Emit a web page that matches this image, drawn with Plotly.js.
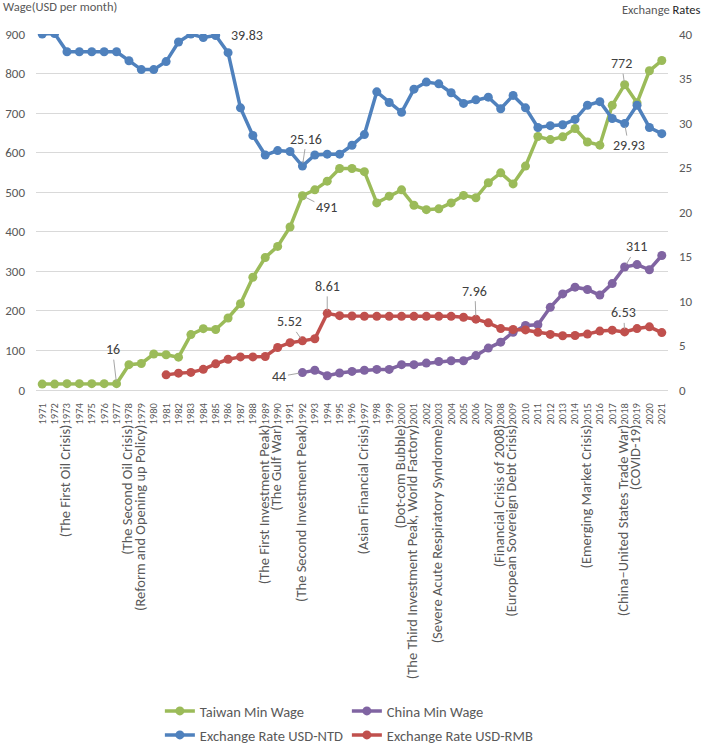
<!DOCTYPE html>
<html>
<head>
<meta charset="utf-8">
<script src="https://cdn.plot.ly/plotly-3.0.1.min.js"></script>
<style>
  html, body { margin: 0; padding: 0; background: #fff; }
  #chart { width: 703px; height: 748px; }
</style>
</head>
<body>
<div id="chart"></div>
<script>
// years on the category axis
var years = [];
for (var yr = 1971; yr <= 2021; yr++) years.push(yr);

// events printed in front of some years
var events = {
  1973: '(The First Oil Crisis)',
  1978: '(The Second Oil Crisis)',
  1979: '(Reform and Opening up Policy)',
  1989: '(The First Investment Peak)',
  1990: '(The Gulf War)',
  1992: '(The Second Investment Peak)',
  1997: '(Asian Financial Crisis)',
  2000: '(Dot-com Bubble)',
  2001: '(The Third Investment Peak, World Factory)',
  2003: '(Severe Acute Respiratory Syndrome)',
  2008: '(Financial Crisis of 2008)',
  2009: '(European Sovereign Debt Crisis)',
  2015: '(Emerging Market Crisis)',
  2018: '(China\u2013United States Trade War)',
  2019: '(COVID-19)'
};
// event text is set larger than the year digits, as in the source
var tickLabels = years.map(function (y) {
  var ev = events[y] ? '<span style="font-size:14.5px">' + events[y] + '</span>' : '';
  return ev + y;
});

// wages, USD per month (left axis)
var taiwanWage = [15, 15, 16, 16, 16, 16, 16, 64, 67, 91,
  89, 83, 140, 155, 153, 182, 218, 285, 335, 363,
  412, 491, 506, 528, 560, 560, 552, 473, 490, 506,
  467, 456, 458, 473, 492, 486, 524, 549, 521, 566,
  641, 633, 640, 661, 627, 619, 720, 772, 726, 807, 833];

var chinaWage = [null, null, null, null, null, null, null, null, null, null,
  null, null, null, null, null, null, null, null, null, null,
  null, 44, 50, 36, 43, 47, 50, 52, 52, 64,
  64, 68, 72, 74, 74, 87, 106, 121, 146, 163,
  165, 209, 243, 260, 254, 240, 269, 311, 317, 304, 340];

// exchange rates (right axis)
var rateNTD = [40.0, 40.05, 38.0, 38.0, 38.0, 38.0, 38.0, 37.0, 36.0, 36.0,
  36.9, 39.1, 40.0, 39.6, 39.83, 37.9, 31.7, 28.6, 26.4, 26.9,
  26.8, 25.16, 26.4, 26.5, 26.5, 27.5, 28.7, 33.5, 32.3, 31.2,
  33.8, 34.6, 34.4, 33.4, 32.2, 32.6, 32.9, 31.6, 33.1, 31.7,
  29.5, 29.7, 29.8, 30.4, 32.0, 32.4, 30.5, 29.93, 32.0, 29.5, 28.8];

var rateRMB = [null, null, null, null, null, null, null, null, null, null,
  1.70, 1.89, 1.98, 2.32, 2.94, 3.45, 3.72, 3.72, 3.77, 4.78,
  5.32, 5.52, 5.76, 8.61, 8.35, 8.31, 8.29, 8.28, 8.28, 8.28,
  8.28, 8.28, 8.28, 8.28, 8.17, 7.96, 7.55, 6.90, 6.80, 6.75,
  6.48, 6.25, 6.10, 6.12, 6.28, 6.62, 6.72, 6.53, 6.90, 7.10, 6.45];

var FONT = 'Carlito, Calibri, "Liberation Sans", Arial, sans-serif';
var GREY = '#595959';

function series(name, y, color, axis, legend) {
  return {
    x: years, y: y, name: name,
    type: 'scatter', mode: 'lines+markers',
    yaxis: axis, legend: legend,
    connectgaps: false,
    line: {color: color, width: 3.5},
    marker: {color: color, size: 9}
  };
}

var traces = [
  series('Taiwan Min Wage', taiwanWage, '#9BBB59', 'y', 'legend'),
  series('China Min Wage', chinaWage, '#8064A2', 'y', 'legend'),
  series('Exchange Rate USD-NTD', rateNTD, '#4F81BD', 'y2', 'legend2'),
  series('Exchange Rate USD-RMB', rateRMB, '#C0504D', 'y2', 'legend2')
];

// data labels: [year, series, axis, dx, dy]
function valueAt(arr, year) { return arr[years.indexOf(year)]; }
var pointLabels = [
  [1977, taiwanWage, 'y', -4, -34],
  [1992, taiwanWage, 'y', 24, 12],
  [2018, taiwanWage, 'y', -3, -21],
  [1992, chinaWage, 'y', -23, 4],
  [2018, chinaWage, 'y', 12, -20],
  [1992, rateNTD, 'y2', 4, -27],
  [2018, rateNTD, 'y2', 4, 22],
  [1992, rateRMB, 'y2', -13, -19],
  [1994, rateRMB, 'y2', 0, -27],
  [2006, rateRMB, 'y2', -1, -28],
  [2018, rateRMB, 'y2', -1, -19]
];

var annotations = pointLabels.map(function (p) {
  var v = valueAt(p[1], p[0]);
  return {
    x: p[0], y: v, xref: 'x', yref: p[2],
    text: String(v),
    showarrow: true, arrowhead: 0, arrowwidth: 1, arrowcolor: '#A6A6A6',
    standoff: 3,
    ax: p[3], ay: p[4],
    font: {family: FONT, size: 14, color: '#404040'}
  };
});

// 39.83 sits right beside its point, no leader
annotations.push({
  x: 1985, y: valueAt(rateNTD, 1985), xref: 'x', yref: 'y2',
  text: '39.83', showarrow: false, xshift: 31,
  font: {family: FONT, size: 14, color: '#404040'}
});

// axis titles
annotations.push({
  text: 'Wage(USD per month)', xref: 'paper', yref: 'paper',
  x: -0.0554, y: 1.076, xanchor: 'left', yanchor: 'middle',
  showarrow: false, font: {family: FONT, size: 12.5, color: GREY}
});
annotations.push({
  text: 'Exchange <span style="fill:#262626">Rates</span>', xref: 'paper', yref: 'paper',
  x: 1.0538, y: 1.069, xanchor: 'right', yanchor: 'middle',
  showarrow: false, font: {family: FONT, size: 12.5, color: GREY}
});

var layout = {
  width: 703, height: 748,
  margin: {l: 36, r: 35, t: 34, b: 358},
  paper_bgcolor: '#fff', plot_bgcolor: '#fff',
  font: {family: FONT, color: GREY},
  xaxis: {
    range: [1970.5, 2021.5],
    tickmode: 'array', tickvals: years, ticktext: tickLabels,
    tickangle: -90, ticks: '',
    ticklabelstandoff: 8,
    tickfont: {family: FONT, size: 10.5, color: GREY},
    showgrid: false, zeroline: false,
    showline: true, linecolor: '#D9D9D9', linewidth: 1
  },
  yaxis: {
    range: [0, 900], dtick: 100, tick0: 0,
    gridcolor: '#D9D9D9', gridwidth: 1,
    zeroline: false, showline: false, ticks: '',
    ticklabelstandoff: 10,
    tickfont: {family: FONT, size: 13, color: GREY}
  },
  yaxis2: {
    overlaying: 'y', side: 'right',
    range: [0, 40], dtick: 5, tick0: 0,
    showgrid: false, zeroline: false, showline: false, ticks: '',
    ticklabelstandoff: 10,
    tickfont: {family: FONT, size: 13, color: GREY}
  },
  // legends are placed against the page so they do not push the bottom margin
  legend: {
    orientation: 'h', xref: 'paper', x: 0.196, xanchor: 'left',
    yref: 'container', y: 0.0495, yanchor: 'middle',
    entrywidth: 142, traceorder: 'normal',
    font: {family: FONT, size: 14.5, color: GREY}
  },
  legend2: {
    orientation: 'h', xref: 'paper', x: 0.196, xanchor: 'left',
    yref: 'container', y: 0.0174, yanchor: 'middle',
    entrywidth: 142, traceorder: 'normal',
    font: {family: FONT, size: 14.5, color: GREY}
  },
  annotations: annotations,
  showlegend: true
};

Plotly.newPlot('chart', traces, layout, {displayModeBar: false, staticPlot: true});
</script>
</body>
</html>
